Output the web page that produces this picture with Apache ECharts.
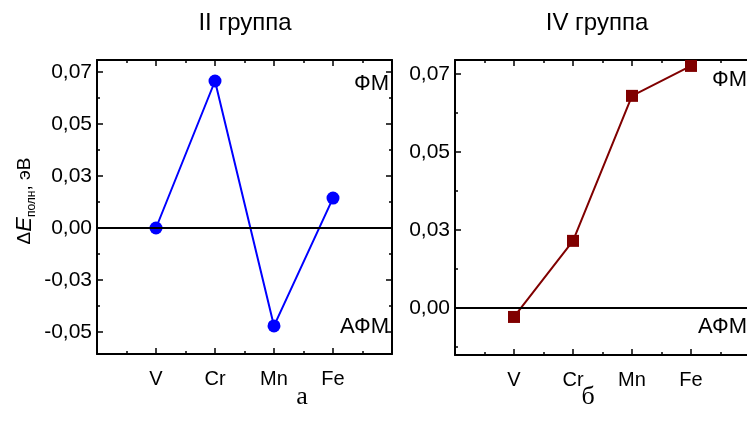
<!DOCTYPE html>
<html><head><meta charset="utf-8">
<script src="https://cdn.jsdelivr.net/npm/echarts@6/dist/echarts.min.js"></script>
<style>html,body{margin:0;padding:0;background:#fff}#c{width:747px;height:433px}</style>
</head><body><div id="c"></div>
<script>
var categories = ['V', 'Cr', 'Mn', 'Fe'];
var groupIIValues = [0.0, 0.0707, -0.0471, 0.0144];
var groupIVValues = [-0.0029, 0.0215, 0.0680, 0.0776];
var leftTickValues = [-0.05, -0.025, 0, 0.025, 0.05, 0.075];
var leftTickLabels = ['-0,05', '-0,03', '0,00', '0,03', '0,05', '0,07'];
var leftMinorTicks = [-0.0375, -0.0125, 0.0125, 0.0375, 0.0625];
var rightTickValues = [0, 0.025, 0.05, 0.075];
var rightTickLabels = ['0,00', '0,03', '0,05', '0,07'];
var rightMinorTicks = [-0.0125, 0.0125, 0.0375, 0.0625];
var titles = ['II группа', 'IV группа'];
var panelLetters = ['а', 'б'];

var FONT = 'Liberation Sans, Arial, sans-serif';
var chart = echarts.init(document.getElementById('c'), null, {renderer: 'canvas'});

function xAx(grid, pos, labels) {
  return {
    type: 'value', gridIndex: grid, position: pos, min: -1, max: 4, interval: 1,
    axisLine: {show: true, onZero: false, lineStyle: {color: '#000', width: 2}},
    axisTick: {show: true, inside: true, length: 6, lineStyle: {color: '#000', width: 1.5}},
    minorTick: {show: true, splitNumber: 2, length: 3, lineStyle: {color: '#000', width: 1.5}},
    splitLine: {show: false}, minorSplitLine: {show: false},
    axisLabel: {show: labels, margin: 15, color: '#000', fontSize: 20, fontFamily: FONT,
      formatter: function (v) { var i = Math.round(v); return (i >= 0 && i < categories.length && Math.abs(v - i) < 1e-6) ? categories[i] : ''; }}
  };
}
function yAx(grid, pos, mn, mx, vals, labs, minor, showLabel, major, name, ticks) {
  var a = {
    type: 'value', gridIndex: grid, position: pos, min: mn, max: mx,
    axisLine: {show: major, onZero: false, lineStyle: {color: '#000', width: 2}},
    axisTick: {show: ticks !== false, inside: true, length: major ? 6 : 3, customValues: major ? vals : minor,
      lineStyle: {color: '#000', width: 1.5}},
    splitLine: {show: false},
    axisLabel: {show: showLabel, customValues: vals, margin: 5, color: '#000', fontSize: 21, fontFamily: FONT,
      formatter: function (v) { for (var i = 0; i < vals.length; i++) { if (Math.abs(vals[i] - v) < 1e-9) return labs[i]; } return ''; }}
  };
  if (name) {
    a.name = '{d|Δ}{e|E}{s|полн}{d|, эВ}';
    a.nameLocation = 'middle';
    a.nameRotate = 90;
    a.nameGap = 59;
    a.nameTextStyle = {padding: [0, 0, 0, 12], rich: {
      d: {fontSize: 19, fontFamily: FONT, color: '#000'},
      e: {fontSize: 22, fontFamily: FONT, fontStyle: 'italic', color: '#000'},
      s: {fontSize: 12, fontFamily: FONT, color: '#000', padding: [14, 0, 0, 0]}
    }};
  }
  return a;
}

var xAxes = [xAx(0, 'bottom', true), xAx(0, 'top', false), xAx(1, 'bottom', true), xAx(1, 'top', false)];
var yAxes = [
  yAx(0, 'left', -0.0606, 0.0808, leftTickValues, leftTickLabels, leftMinorTicks, true, true, true),
  yAx(0, 'left', -0.0606, 0.0808, leftTickValues, leftTickLabels, leftMinorTicks, false, false, false),
  yAx(0, 'right', -0.0606, 0.0808, leftTickValues, leftTickLabels, leftMinorTicks, false, true, false),
  yAx(0, 'right', -0.0606, 0.0808, leftTickValues, leftTickLabels, leftMinorTicks, false, false, false),
  yAx(1, 'left', -0.0151, 0.0795, rightTickValues, rightTickLabels, rightMinorTicks, true, true, false),
  yAx(1, 'left', -0.0151, 0.0795, rightTickValues, rightTickLabels, rightMinorTicks, false, false, false),
  yAx(1, 'right', -0.0151, 0.0795, rightTickValues, rightTickLabels, rightMinorTicks, false, true, false, false),
  yAx(1, 'right', -0.0151, 0.0795, rightTickValues, rightTickLabels, rightMinorTicks, false, false, false, false)
];

function zeroLine() {
  return {silent: true, symbol: 'none', label: {show: false},
    lineStyle: {color: '#000', width: 2, type: 'solid'}, data: [{yAxis: 0}]};
}

function txt(x, y, s, size, align, family) {
  return {type: 'text', x: x, y: y, style: {text: s, fill: '#000', font: size + 'px ' + (family || FONT),
    textAlign: align || 'center', textVerticalAlign: 'middle'}};
}

chart.setOption({
  animation: false,
  backgroundColor: '#fff',
  grid: [
    {left: 97, top: 60, width: 295, height: 294, containLabel: false, outerBoundsMode: 'none'},
    {left: 455, top: 60, width: 295, height: 295, containLabel: false, outerBoundsMode: 'none'}
  ],
  xAxis: xAxes,
  yAxis: yAxes,
  series: [
    {type: 'line', xAxisIndex: 0, yAxisIndex: 0,
     data: groupIIValues.map(function (v, i) { return [i, v]; }),
     symbol: 'circle', symbolSize: 13,
     lineStyle: {color: '#0000ff', width: 2}, itemStyle: {color: '#0000ff'},
     markLine: zeroLine(), z: 3},
    {type: 'line', xAxisIndex: 2, yAxisIndex: 4,
     data: groupIVValues.map(function (v, i) { return [i, v]; }),
     symbol: 'rect', symbolSize: 12,
     lineStyle: {color: '#800000', width: 2}, itemStyle: {color: '#800000'},
     markLine: zeroLine(), z: 3}
  ],
  graphic: [
    txt(245, 23, titles[0], 24),
    txt(597, 23, titles[1], 24),
    txt(389, 84, 'ФМ', 22, 'right'),
    txt(389, 327, 'АФМ', 22, 'right'),
    txt(747, 80, 'ФМ', 22, 'right'),
    txt(747, 327, 'АФМ', 22, 'right'),
    txt(302, 397, panelLetters[0], 26, 'center', 'Liberation Serif, serif'),
    txt(588, 397, panelLetters[1], 26, 'center', 'Liberation Serif, serif')
  ]
});
</script></body></html>
